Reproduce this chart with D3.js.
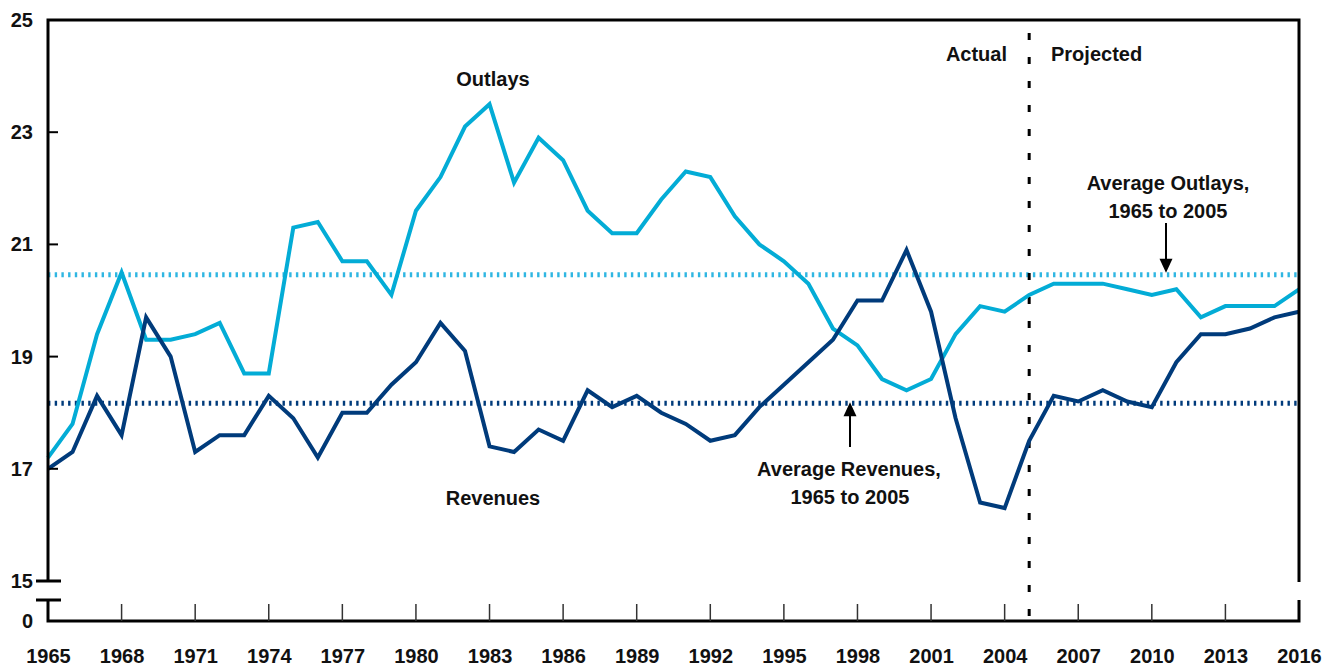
<!DOCTYPE html>
<html>
<head>
<meta charset="utf-8">
<script src="https://cdn.jsdelivr.net/npm/d3@7"></script>
<style>
  body { margin: 0; background: #fff; }
  svg text { font-family: "Liberation Sans", Arial, sans-serif; font-weight: bold; fill: #111; }
</style>
</head>
<body>
<div class="chart"></div>
<script>
// Years 1965 to 2016, percent of GDP
const years = d3.range(1965, 2017);
const outlays = [
  17.2, 17.8, 19.4, 20.5, 19.3, 19.3, 19.4, 19.6, 18.7, 18.7,
  21.3, 21.4, 20.7, 20.7, 20.1, 21.6, 22.2, 23.1, 23.5, 22.1,
  22.9, 22.5, 21.6, 21.2, 21.2, 21.8, 22.3, 22.2, 21.5, 21.0,
  20.7, 20.3, 19.5, 19.2, 18.6, 18.4, 18.6, 19.4, 19.9, 19.8,
  20.1, 20.3, 20.3, 20.3, 20.2, 20.1, 20.2, 19.7, 19.9, 19.9,
  19.9, 20.2
];
const revenues = [
  17.0, 17.3, 18.3, 17.6, 19.7, 19.0, 17.3, 17.6, 17.6, 18.3,
  17.9, 17.2, 18.0, 18.0, 18.5, 18.9, 19.6, 19.1, 17.4, 17.3,
  17.7, 17.5, 18.4, 18.1, 18.3, 18.0, 17.8, 17.5, 17.6, 18.1,
  18.5, 18.9, 19.3, 20.0, 20.0, 20.9, 19.8, 17.9, 16.4, 16.3,
  17.5, 18.3, 18.2, 18.4, 18.2, 18.1, 18.9, 19.4, 19.4, 19.5,
  19.7, 19.8
];
const avgOutlays = 20.46;
const avgRevenues = 18.17;
const splitYear = 2005;
const xTicks = d3.range(1965, 2017, 3);
const yTicks = [15, 17, 19, 21, 23, 25];

const width = 1328, height = 670;
const plot = {left: 48, right: 1299, top: 20, breakY: 581, zeroY: 621};

const svg = d3.select('.chart').append('svg')
    .attr('width', width)
    .attr('height', height);

const x = d3.scaleLinear().domain([1965, 2016]).range([plot.left, plot.right]);
const y = d3.scaleLinear().domain([15, 25]).range([plot.breakY, plot.top]);

const outColor = '#03acd6';
const revColor = '#003b7b';

// average lines
svg.append('line')
    .attr('x1', plot.left).attr('x2', plot.right)
    .attr('y1', y(avgOutlays)).attr('y2', y(avgOutlays))
    .attr('stroke', '#2fb6e2').attr('stroke-width', 5)
    .attr('stroke-dasharray', '2.4,4.3');
svg.append('line')
    .attr('x1', plot.left).attr('x2', plot.right)
    .attr('y1', y(avgRevenues)).attr('y2', y(avgRevenues))
    .attr('stroke', revColor).attr('stroke-width', 5)
    .attr('stroke-dasharray', '2.4,4.3');

// actual / projected divider
svg.append('line')
    .attr('x1', x(splitYear)).attr('x2', x(splitYear))
    .attr('y1', 33).attr('y2', plot.zeroY)
    .attr('stroke', '#000').attr('stroke-width', 3)
    .attr('stroke-dasharray', '7,17');

const line = d3.line()
    .x((d, i) => x(years[i]))
    .y(d => y(d));

svg.append('path')
    .datum(outlays)
    .attr('fill', 'none')
    .attr('stroke', outColor)
    .attr('stroke-width', 4)
    .attr('stroke-linejoin', 'miter')
    .attr('d', line);

svg.append('path')
    .datum(revenues)
    .attr('fill', 'none')
    .attr('stroke', revColor)
    .attr('stroke-width', 4)
    .attr('stroke-linejoin', 'miter')
    .attr('d', line);

// frame with axis break
const frame = svg.append('g').attr('fill', 'none').attr('stroke', '#000').attr('stroke-width', 3);
frame.append('path')
    .attr('d', `M${plot.left},${plot.breakY} V${plot.top} H${plot.right} V${plot.breakY + 1}`);
frame.append('path')
    .attr('d', `M${plot.left},600 V${plot.zeroY} H${plot.right} V600`);
frame.append('path')
    .attr('d', `M36,${plot.breakY} H61 M36,600 H61`);

// y axis
const yAxis = d3.axisLeft(y)
    .tickValues(yTicks)
    .tickSize(0)
    .tickPadding(15);
const gY = svg.append('g')
    .attr('transform', `translate(${plot.left},0)`)
    .call(yAxis);
gY.select('.domain').remove();
gY.selectAll('text').style('font-size', '20px').attr('fill', '#111');

svg.selectAll('.ytick')
    .data(yTicks.filter(d => d > 15 && d < 25))
    .enter().append('line')
    .attr('x1', plot.left).attr('x2', plot.left + 10)
    .attr('y1', d => y(d)).attr('y2', d => y(d))
    .attr('stroke', '#000').attr('stroke-width', 2);

svg.append('text')
    .attr('x', 33).attr('y', plot.zeroY)
    .attr('dy', '0.35em')
    .attr('text-anchor', 'end')
    .style('font-size', '20px')
    .text('0');

// x axis
const xAxis = d3.axisBottom(x)
    .tickValues(xTicks)
    .tickFormat(d3.format('d'))
    .tickSize(0)
    .tickPadding(28);
const gX = svg.append('g')
    .attr('transform', `translate(0,${plot.zeroY})`)
    .call(xAxis);
gX.select('.domain').remove();
gX.selectAll('text').style('font-size', '20px').attr('fill', '#111');

svg.selectAll('.xtick')
    .data(xTicks.filter(d => d > 1965 && d < 2016))
    .enter().append('line')
    .attr('x1', d => x(d)).attr('x2', d => x(d))
    .attr('y1', plot.zeroY).attr('y2', plot.zeroY - 17)
    .attr('stroke', '#333').attr('stroke-width', 1.5);

// labels
function label(tx, ty, txt, anchor) {
  svg.append('text')
      .attr('x', tx).attr('y', ty)
      .attr('text-anchor', anchor || 'middle')
      .style('font-size', '20px')
      .text(txt);
}
label(493, 86, 'Outlays');
label(493, 505, 'Revenues');
label(1007, 61, 'Actual', 'end');
label(1051, 61, 'Projected', 'start');
label(849, 476, 'Average Revenues,');
label(850, 504, '1965 to 2005');
label(1168, 190, 'Average Outlays,');
label(1168, 218, '1965 to 2005');

// arrows
const arrow = svg.append('g').attr('fill', '#000').attr('stroke', '#000');
arrow.append('line')
    .attr('x1', 850).attr('x2', 850)
    .attr('y1', 447).attr('y2', 412)
    .attr('stroke-width', 2);
arrow.append('path')
    .attr('stroke', 'none')
    .attr('d', `M850,${y(avgRevenues) - 1} l-6.5,14 h13 z`);
arrow.append('line')
    .attr('x1', 1166).attr('x2', 1166)
    .attr('y1', 223).attr('y2', 262)
    .attr('stroke-width', 2);
arrow.append('path')
    .attr('stroke', 'none')
    .attr('d', `M1166,${y(avgOutlays) - 2} l-6.5,-14 h13 z`);
</script>
</body>
</html>
